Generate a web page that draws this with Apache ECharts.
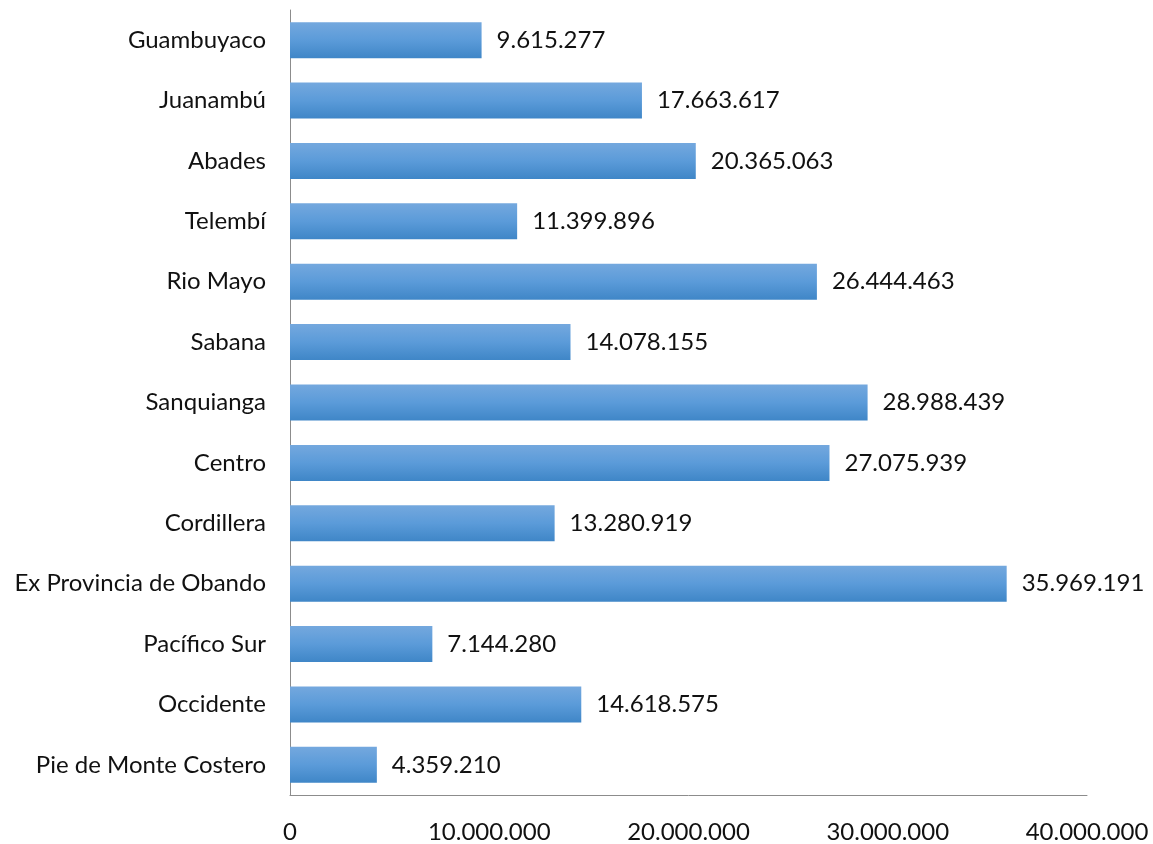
<!DOCTYPE html>
<html>
<head>
<meta charset="utf-8">
<script src="https://cdn.jsdelivr.net/npm/echarts@6/dist/echarts.min.js"></script>
<style>html,body{margin:0;padding:0;background:#fff}#c{width:1153px;height:844px}</style>
</head>
<body>
<div id="c"></div>
<script>
const categories = ["Guambuyaco","Juanambú","Abades","Telembí","Rio Mayo","Sabana","Sanquianga","Centro","Cordillera","Ex Provincia de Obando","Pacífico Sur","Occidente","Pie de Monte Costero"];
const values = [9615277,17663617,20365063,11399896,26444463,14078155,28988439,27075939,13280919,35969191,7144280,14618575,4359210];
const xTicks = [0,10000000,20000000,30000000,40000000];

function fmt(v){return String(v).replace(/\B(?=(\d{3})+(?!\d))/g,'.');}
const FONT = 'Lato, "Open Sans", sans-serif';
const FS = 24;
const chart = echarts.init(document.getElementById('c'));
chart.setOption({
  animation:false,
  grid:{left:290,right:66,top:10,bottom:46,containLabel:false},
  xAxis:{type:'value',min:xTicks[0],max:xTicks[xTicks.length-1],interval:10000000,
    axisLine:{show:true,lineStyle:{color:'#8c8c8c',width:1}},
    axisTick:{show:false},splitLine:{show:false},
    axisLabel:{margin:25,fontSize:FS,color:'#111',fontFamily:FONT,formatter:v=>fmt(v)}},
  yAxis:{type:'category',data:categories,inverse:true,
    axisLine:{show:true,lineStyle:{color:'#8c8c8c',width:1}},
    axisTick:{show:false},
    axisLabel:{margin:24,fontSize:FS,color:'#111',fontFamily:FONT,padding:[3,0,0,0]}},
  series:[{type:'bar',data:values,barWidth:36,
    itemStyle:{color:new echarts.graphic.LinearGradient(0,0,0,1,[{offset:0,color:'#74a8de'},{offset:0.5,color:'#5b9bd9'},{offset:1,color:'#3f86c7'}])},
    label:{show:true,position:'right',distance:15,fontSize:FS,color:'#111',fontFamily:FONT,padding:[3,0,0,0],formatter:p=>fmt(p.value)}}]
});
</script>
</body>
</html>
